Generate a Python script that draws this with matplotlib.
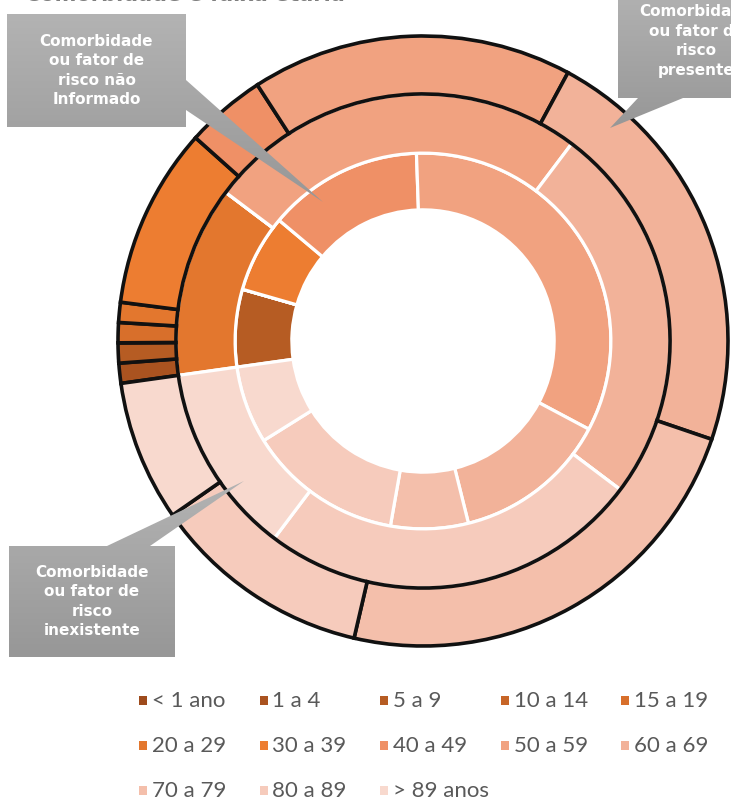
import numpy as np
import matplotlib
matplotlib.use("Agg")
import matplotlib.pyplot as plt
from matplotlib.patches import Polygon, Rectangle
from matplotlib.colors import LinearSegmentedColormap

# faixas etarias (ordem da legenda)
faixas = ['< 1 ano', '1 a 4', '5 a 9', '10 a 14', '15 a 19',
          '20 a 29', '30 a 39', '40 a 49', '50 a 59', '60 a 69',
          '70 a 79', '80 a 89', '> 89 anos']
cores = ['#9E4B1C', '#AA5320', '#B65C23', '#C76527', '#D86F2B',
         '#E3772E', '#ED7D31', '#EF9066', '#F1A280', '#F2B299',
         '#F4BFAB', '#F6CBBC', '#F8D9CE']

# casos por faixa etaria em cada anel
presente = [0, 1, 1, 0, 1, 1, 9, 4, 16, 21, 22, 11, 7]      # anel externo
inexistente = [0, 0, 0, 0, 0, 1, 0, 0, 2, 2, 0, 2, 1]       # anel do meio
nao_informado = [0, 0, 1, 0, 0, 0, 1, 2, 5, 2, 1, 2, 1]     # anel interno

W, H = 731, 801
fig = plt.figure(figsize=(W / 100, H / 100), dpi=100)

# eixo do grafico de rosca: centro (423, 341) px, raio externo 305 px
cx, cy, rpx, lim = 423, 341, 305, 1.05
half = rpx * lim
ax = fig.add_axes([(cx - half) / W, (H - cy - half) / H, 2 * half / W, 2 * half / H])

ax.pie(nao_informado, radius=0.616, colors=cores, startangle=188, counterclock=False,
       wedgeprops=dict(width=0.186, edgecolor='white', linewidth=2.3))
ax.pie(inexistente, radius=0.81, colors=cores, startangle=188, counterclock=False,
       wedgeprops=dict(width=0.194, edgecolor='white', linewidth=2.3))
ax.pie(presente, radius=1.0, colors=cores, startangle=188, counterclock=False,
       wedgeprops=dict(width=0.19, edgecolor='#111111', linewidth=2.6))
ax.set_xlim(-lim, lim)
ax.set_ylim(-lim, lim)
ax.set_aspect('equal')
ax.set_axis_off()

# camada em pixels para baloes e legenda
ov = fig.add_axes([0, 0, 1, 1], zorder=5)
ov.set_xlim(0, W)
ov.set_ylim(H, 0)
ov.set_axis_off()

cinza = LinearSegmentedColormap.from_list('cinza', ['#B3B3B3', '#979797'])
grad = np.linspace(0, 1, 256).reshape(-1, 1)


def balao(pontos, caixa, texto):
    poly = Polygon(pontos, closed=True, facecolor='none', edgecolor='none')
    ov.add_patch(poly)
    x0, y0, x1, y1 = caixa
    ys = [p[1] for p in pontos]
    im = ov.imshow(grad, cmap=cinza, aspect='auto', origin='upper',
                   extent=(min(p[0] for p in pontos), max(p[0] for p in pontos), max(ys), min(ys)))
    im.set_clip_path(poly)
    ov.text((x0 + x1) / 2, (y0 + y1) / 2, texto, color='white', fontsize=11,
            fontweight='bold', ha='center', va='center', linespacing=1.38)


balao([(7, 14), (186, 14), (186, 80), (323, 202), (186, 110), (186, 127), (7, 127)],
      (7, 14, 186, 127), 'Comorbidade\nou fator de\nrisco não\nInformado')
balao([(618, -16), (775, -16), (775, 98), (683, 98), (610, 128), (638, 98), (618, 98)],
      (618, -16, 775, 98), 'Comorbidade\nou fator de\nrisco\npresente')
balao([(9, 546), (107, 546), (244, 481), (150, 546), (175, 546), (175, 657), (9, 657)],
      (9, 546, 175, 657), 'Comorbidade\nou fator de\nrisco\ninexistente')
ov.set_xlim(0, W)
ov.set_ylim(H, 0)

# legenda em 5 colunas
for i, (nome, cor) in enumerate(zip(faixas, cores)):
    col, lin = i % 5, i // 5
    x = 143 + col * 120.5
    y = 700 + lin * 45
    ov.add_patch(Rectangle((x - 4, y - 4), 8, 9, facecolor=cor, edgecolor='none'))
    ov.text(x + 9, y + 1, nome, color='#595959', fontsize=16, family='Lato',
            ha='left', va='center')

# titulo cortado no topo
fig.text(25 / W, 1 - 1 / H, 'Comorbidade e faixa etária', color='#7F7F7F',
         fontsize=15, fontweight='bold', va='baseline', ha='left')

fig.savefig('out.png', dpi=100)
